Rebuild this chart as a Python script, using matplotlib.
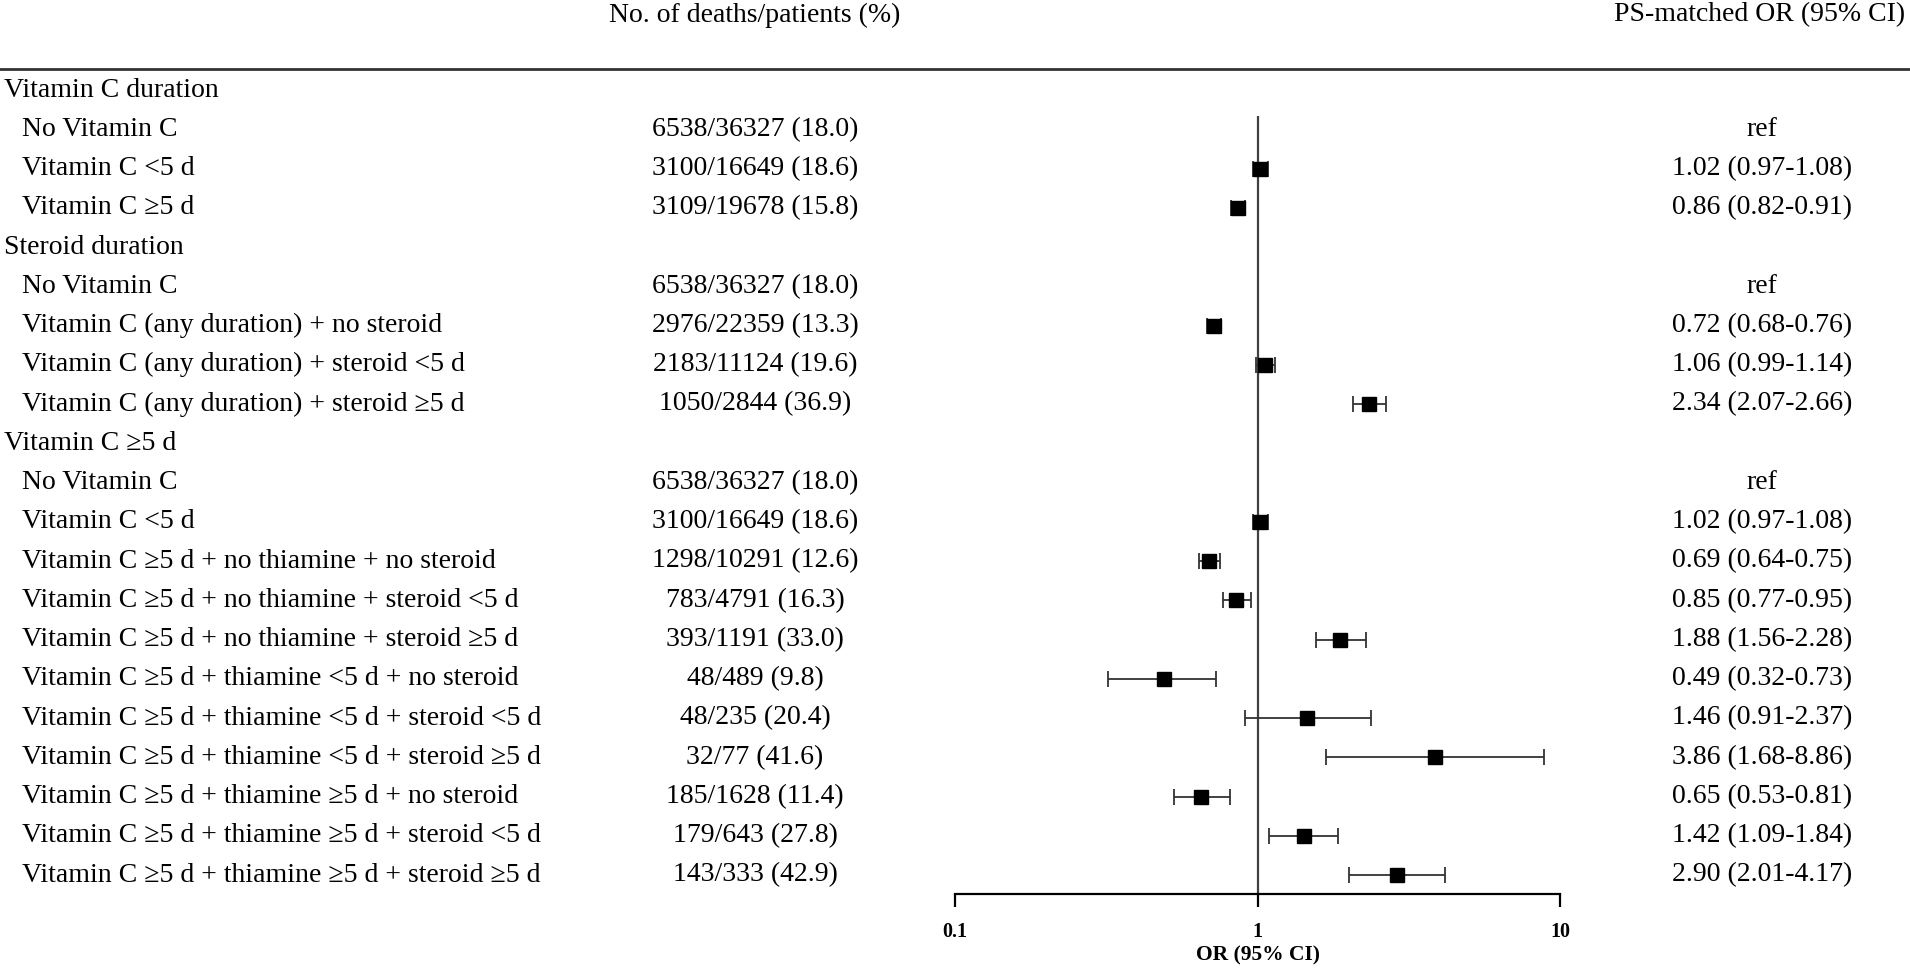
import numpy as np
import matplotlib
matplotlib.use("Agg")
import matplotlib.pyplot as plt
from matplotlib.lines import Line2D
from matplotlib.transforms import blended_transform_factory

plt.rcParams['font.family'] = ['Liberation Serif', 'DejaVu Serif']

# rows of the table (group headers have is_group = True)
labels = [
    "Vitamin C duration",
    "No Vitamin C",
    "Vitamin C <5 d",
    "Vitamin C \u22655 d",
    "Steroid duration",
    "No Vitamin C",
    "Vitamin C (any duration) + no steroid",
    "Vitamin C (any duration) + steroid <5 d",
    "Vitamin C (any duration) + steroid \u22655 d",
    "Vitamin C \u22655 d",
    "No Vitamin C",
    "Vitamin C <5 d",
    "Vitamin C \u22655 d + no thiamine + no steroid",
    "Vitamin C \u22655 d + no thiamine + steroid <5 d",
    "Vitamin C \u22655 d + no thiamine + steroid \u22655 d",
    "Vitamin C \u22655 d + thiamine <5 d + no steroid",
    "Vitamin C \u22655 d + thiamine <5 d + steroid <5 d",
    "Vitamin C \u22655 d + thiamine <5 d + steroid \u22655 d",
    "Vitamin C \u22655 d + thiamine \u22655 d + no steroid",
    "Vitamin C \u22655 d + thiamine \u22655 d + steroid <5 d",
    "Vitamin C \u22655 d + thiamine \u22655 d + steroid \u22655 d",
]
is_group = [True, False, False, False, True, False, False, False, False, True,
            False, False, False, False, False, False, False, False, False, False, False]

deaths = [None, 6538, 3100, 3109, None, 6538, 2976, 2183, 1050, None,
          6538, 3100, 1298, 783, 393, 48, 48, 32, 185, 179, 143]
patients = [None, 36327, 16649, 19678, None, 36327, 22359, 11124, 2844, None,
            36327, 16649, 10291, 4791, 1191, 489, 235, 77, 1628, 643, 333]
pct = [None, 18.0, 18.6, 15.8, None, 18.0, 13.3, 19.6, 36.9, None,
       18.0, 18.6, 12.6, 16.3, 33.0, 9.8, 20.4, 41.6, 11.4, 27.8, 42.9]

# odds ratios; "ref" rows use nan
nan = np.nan
or_est = [nan, nan, 1.02, 0.86, nan, nan, 0.72, 1.06, 2.34, nan,
          nan, 1.02, 0.69, 0.85, 1.88, 0.49, 1.46, 3.86, 0.65, 1.42, 2.90]
ci_low = [nan, nan, 0.97, 0.82, nan, nan, 0.68, 0.99, 2.07, nan,
          nan, 0.97, 0.64, 0.77, 1.56, 0.32, 0.91, 1.68, 0.53, 1.09, 2.01]
ci_high = [nan, nan, 1.08, 0.91, nan, nan, 0.76, 1.14, 2.66, nan,
           nan, 1.08, 0.75, 0.95, 2.28, 0.73, 2.37, 8.86, 0.81, 1.84, 4.17]

W, H = 1910, 971
fig = plt.figure(figsize=(W / 100, H / 100), dpi=100)

# forest axes placed so rows line up with the table text
n = len(labels)
row0_px, step_px = 90, 39.25
top_px, bot_px = 70, 894
y_top = (top_px - row0_px) / step_px
y_bot = (bot_px - row0_px) / step_px
ax = fig.add_axes([955 / W, 1 - bot_px / H, (1560 - 955) / W, (bot_px - top_px) / H])
ax.set_xscale('log')
ax.set_xlim(0.1, 10)
ax.set_ylim(y_bot, y_top)

rows = np.arange(n)
est = np.array(or_est)
lo = np.array(ci_low)
hi = np.array(ci_high)
ok = ~np.isnan(est)
ax.errorbar(est[ok], rows[ok], xerr=[est[ok] - lo[ok], hi[ok] - est[ok]],
            fmt='none', ecolor='#333333', elinewidth=1.3, capsize=6, capthick=1.3, zorder=2)
ax.plot(est[ok], rows[ok], 's', color='black', markersize=9.5, zorder=3)

# reference line at OR = 1
ax.vlines(1, (116 - row0_px) / step_px, y_bot, color='#404040', lw=1.6, zorder=1)

for s in ['top', 'right', 'left']:
    ax.spines[s].set_visible(False)
ax.spines['bottom'].set_linewidth(1.6)
ax.set_yticks([])
ax.set_xticks([0.1, 1, 10])
ax.set_xticklabels(['0.1', '1', '10'])
ax.minorticks_off()
ax.tick_params(axis='x', direction='out', length=9.5, width=1.6, pad=11)
for t in ax.get_xticklabels():
    t.set_fontweight('bold')
    t.set_fontsize(14.5)
ax.set_xlabel('OR (95% CI)', fontsize=15.5, fontweight='bold', labelpad=2)
ax.patch.set_alpha(0)

# table text
tr = blended_transform_factory(fig.transFigure, ax.transData)
fs = 20
for i in range(n):
    x = 4 / W if is_group[i] else 22 / W
    fig.text(x, i, labels[i], transform=tr, fontsize=fs, ha='left', va='center')
    if deaths[i] is not None:
        fig.text(755 / W, i, f"{deaths[i]}/{patients[i]} ({pct[i]:.1f})",
                 transform=tr, fontsize=fs, ha='center', va='center')
        if np.isnan(or_est[i]):
            s = "ref"
        else:
            s = f"{or_est[i]:.2f} ({ci_low[i]:.2f}-{ci_high[i]:.2f})"
        fig.text(1762 / W, i, s, transform=tr, fontsize=fs, ha='center', va='center')

# column headers and rule
fig.text(755 / W, 1 - 15 / H, "No. of deaths/patients (%)", fontsize=fs, ha='center', va='center')
fig.text(1905 / W, 1 - 15 / H, "PS-matched OR (95% CI)", fontsize=fs, ha='right', va='center')
fig.add_artist(Line2D([0, 1], [1 - 69 / H, 1 - 69 / H], transform=fig.transFigure,
                      color='#333333', lw=2))

fig.savefig('out.png', dpi=100, facecolor='white')
